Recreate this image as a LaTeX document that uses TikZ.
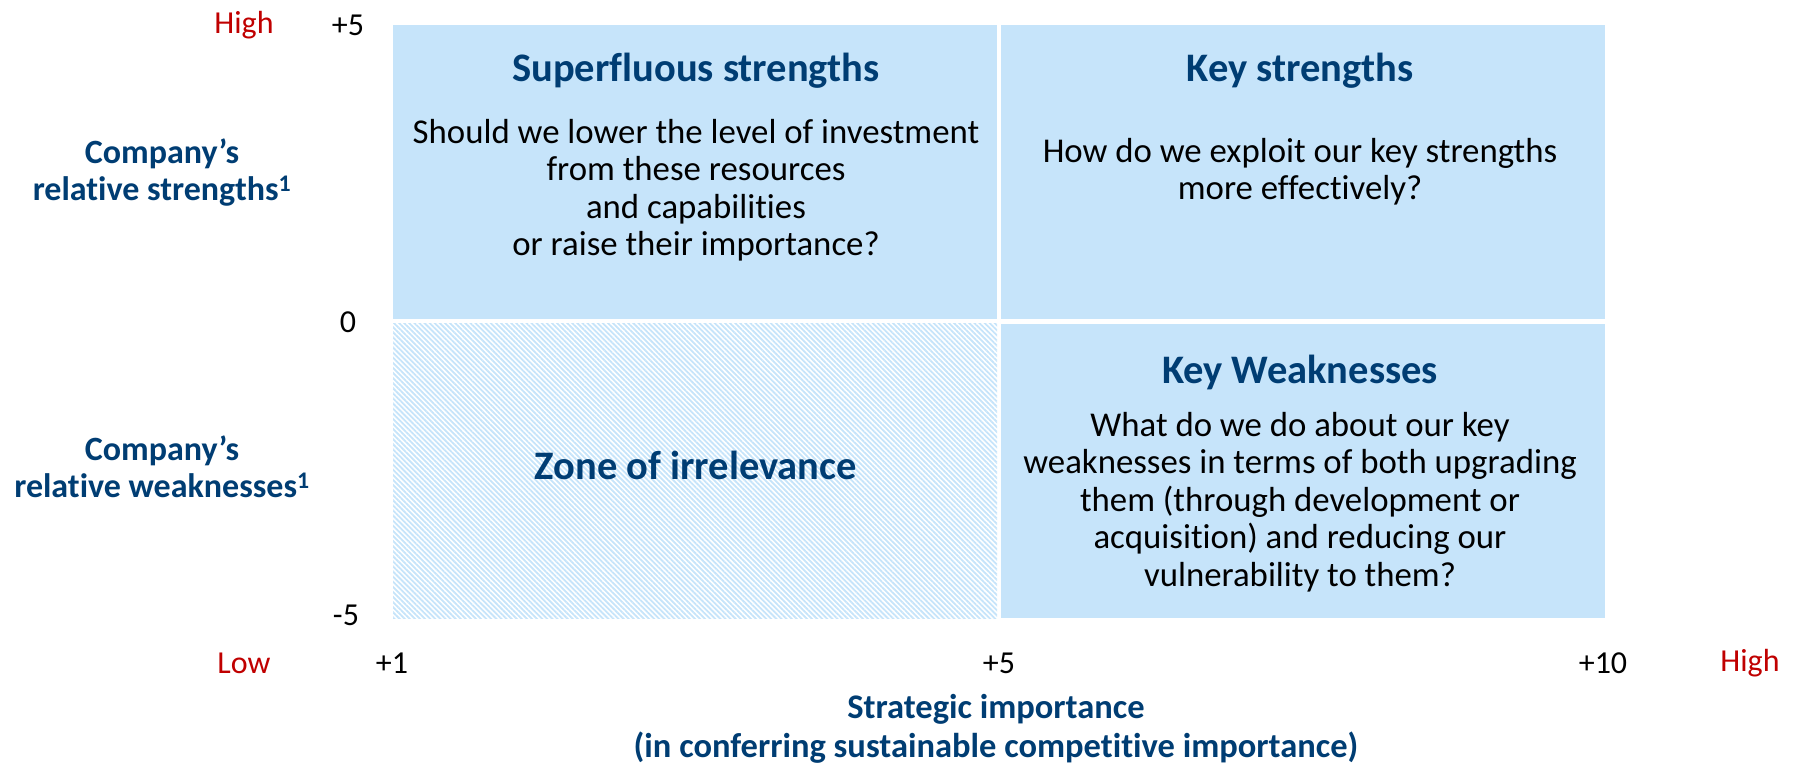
\documentclass[tikz,border=0pt]{standalone}
\usepackage{fontspec}
\setmainfont[Ligatures=NoCommon]{Carlito}
\usepackage{xcolor}
\usepackage{tikz}
\usetikzlibrary{patterns.meta}

\definecolor{quadblue}{HTML}{C6E4FA}
\definecolor{navy}{HTML}{003D73}
\definecolor{hired}{HTML}{C00000}

\begin{document}
\begin{tikzpicture}[
    x=1pt, y=-1pt,
    quad/.style={fill=quadblue, inner sep=0pt, minimum width=604pt, minimum height=294pt},
    hatch/.style={inner sep=0pt, minimum width=604pt, minimum height=295pt,
      pattern={Lines[angle=-45, distance=3.6pt, line width=1.8pt]}, pattern color=quadblue},
    title/.style={align=center, text=navy, font=\bfseries\fontsize{40.5}{46}\selectfont},
    body/.style={align=center, font=\fontsize{34.8}{37.5}\selectfont},
    side/.style={align=center, text=navy, font=\bfseries\fontsize{34}{37}\selectfont},
    tick/.style={font=\fontsize{32}{37}\selectfont},
    level/.style={text=hired, font=\fontsize{32}{37}\selectfont}
  ]
    \useasboundingbox (0,0) rectangle (1793,764);

    % Quadrants
    \node[quad]  (ss) at (695,172) {};
    \node[quad]  (ks) at (1303,172) {};
    \node[hatch] (zi) at (695,470.5) {};
    \node[quad]  (kw) at (1303,470.5) {};

    % Superfluous strengths
    \node[title] (sstitle) at (696,71) {Superfluous strengths};
    \node[body]  (ssbody)  at (696,190) {Should we lower the level of investment\\from these resources\\and capabilities\\or raise their importance?};

    % Key strengths
    \node[title] (kstitle) at (1300,71) {Key strengths};
    \node[body]  (ksbody)  at (1300,171.5) {How do we exploit our key strengths\\more effectively?};

    % Zone of irrelevance
    \node[title] (zititle) at (696,465) {Zone of irrelevance};

    % Key weaknesses
    \node[title] (kwtitle) at (1300,372) {Key Weaknesses};
    \node[body]  (kwbody)  at (1300,502) {What do we do about our key\\weaknesses in terms of both upgrading\\them (through development or\\acquisition) and reducing our\\vulnerability to them?};

    % Vertical axis
    \node[level] (yhigh) at (244,25) {High};
    \node[tick] (yplus) at (348,25) {+5};
    \node[tick] (yzero) at (348,322) {0};
    \node[tick] (yminus) at (346,615) {-5};
    \node[side] (ystr) at (162,173) {Company’s\\relative strengths\textsuperscript{1}};
    \node[side] (ywk) at (162,466.5) {Company’s\\relative weaknesses\textsuperscript{1}};

    % Horizontal axis
    \node[level] (xlow) at (244,663) {Low};
    \node[tick] (xone) at (392,663) {+1};
    \node[tick] (xfive) at (999,663) {+5};
    \node[tick] (xten) at (1603,663) {+10};
    \node[level] (xhigh) at (1750,663) {High};
    \node[side, font=\bfseries\fontsize{34.5}{39}\selectfont] (xlabel) at (996,728.5) {Strategic importance\\(in conferring sustainable competitive importance)};
  \end{tikzpicture}
\end{document}
